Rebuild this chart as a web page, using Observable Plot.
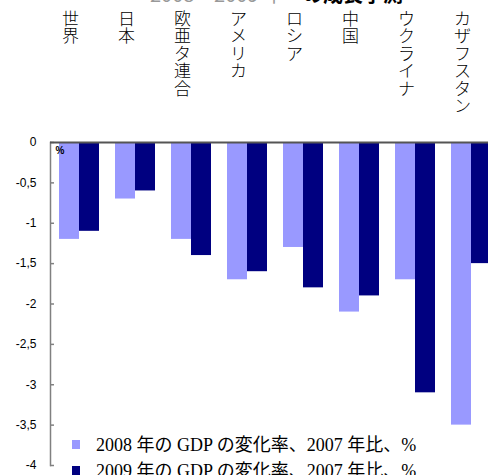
<!DOCTYPE html>
<html><head><meta charset="utf-8">
<script src="https://cdn.jsdelivr.net/npm/d3@7"></script>
<script src="https://cdn.jsdelivr.net/npm/@observablehq/plot@0.6"></script>
<style>
html,body{margin:0;padding:0;background:#fff;width:488px;height:475px;overflow:hidden;}
#wrap{position:relative;width:488px;height:475px;overflow:hidden;}
#chart{position:absolute;left:0;top:0;}
#chart svg{max-width:none !important;}
.title{position:absolute;left:150px;top:-18px;font:bold 20px "Noto Sans CJK JP",sans-serif;white-space:nowrap;line-height:24px;}
.title .a{color:#999;font-weight:normal;}
.leg{position:absolute;left:72px;font:18px "Liberation Serif","Noto Sans CJK JP",serif;white-space:nowrap;color:#000;}
.leg i{display:inline-block;width:8px;height:9px;margin-right:16px;vertical-align:2px;}
</style></head>
<body><div id="wrap"><div id="chart"></div>
<div class="title"><span class="a">2008 – 2009 年</span>　の成長予測</div>
<div id="legend"></div>
</div>
<script>
const categories = ["世界","日本","欧亜タ連合","アメリカ","ロシア","中国","ウクライナ","カザフスタン"];
const gdp2008 = [-1.2,-0.7,-1.2,-1.7,-1.3,-2.1,-1.7,-3.5];
const gdp2009 = [-1.1,-0.6,-1.4,-1.6,-1.8,-1.9,-3.1,-1.5];
const seriesNames = ["2008 年の GDP の変化率、2007 年比、%","2009 年の GDP の変化率、2007 年比、%"];
const seriesColors = ["#9999FF","#000080"];
const yTicks = d3.range(0,-4.01,-0.5);

const rows2008 = categories.map((c,i)=>({c, v: gdp2008[i]}));
const rows2009 = categories.map((c,i)=>({c, v: gdp2009[i]}));

const chart = Plot.plot({
  width: 500, height: 475,
  marginLeft: 50, marginRight: 0, marginTop: 142, marginBottom: 10,
  style: {fontFamily: "Liberation Sans, Arial, sans-serif", fontSize: "12px", background: "#fff", overflow: "visible", maxWidth: "none"},
  x: {domain: categories, paddingInner: 0.289, paddingOuter: 0.144, axis: null},
  y: {domain: [-4, 0], axis: null},
  marks: [
    Plot.barY(rows2008, {x: "c", y: "v", fill: seriesColors[0], insetRight: 20}),
    Plot.barY(rows2009, {x: "c", y: "v", fill: seriesColors[1], insetLeft: 20}),
    Plot.axisY({ticks: yTicks, label: null, tickSize: -4, tickPadding: 18, stroke: "#808080", strokeWidth: 1.5, tickFormat: d => d3.format("")(d).replace(".", ",").replace("−","-"), fill: "#000", fontSize: 12}),
    Plot.frame({anchor: "left", stroke: "#808080", strokeWidth: 1.5}),
    Plot.ruleY([0], {stroke: "#555", strokeWidth: 2}),
    Plot.text(["%"], {frameAnchor: "top-left", dx: 5, dy: 4, fontSize: 10, fontWeight: "bold"}),
    Plot.text(categories, {x: d => d, frameAnchor: "top", dx: -9, dy: -130, lineAnchor: "top",
      text: d => d.split("").join("\n"), lineHeight: 1.03,
      fontFamily: "Noto Sans CJK JP", fontSize: 17, fontWeight: 300, fill: "#000"})
  ]
});
document.getElementById("chart").appendChild(chart);

const leg = document.getElementById("legend");
seriesNames.forEach((n,i)=>{
  const d = document.createElement("div");
  d.className = "leg";
  d.style.top = (430 + i*26) + "px";
  d.innerHTML = `<i style="background:${seriesColors[i]}"></i>${n}`;
  leg.appendChild(d);
});
</script>
</body></html>
